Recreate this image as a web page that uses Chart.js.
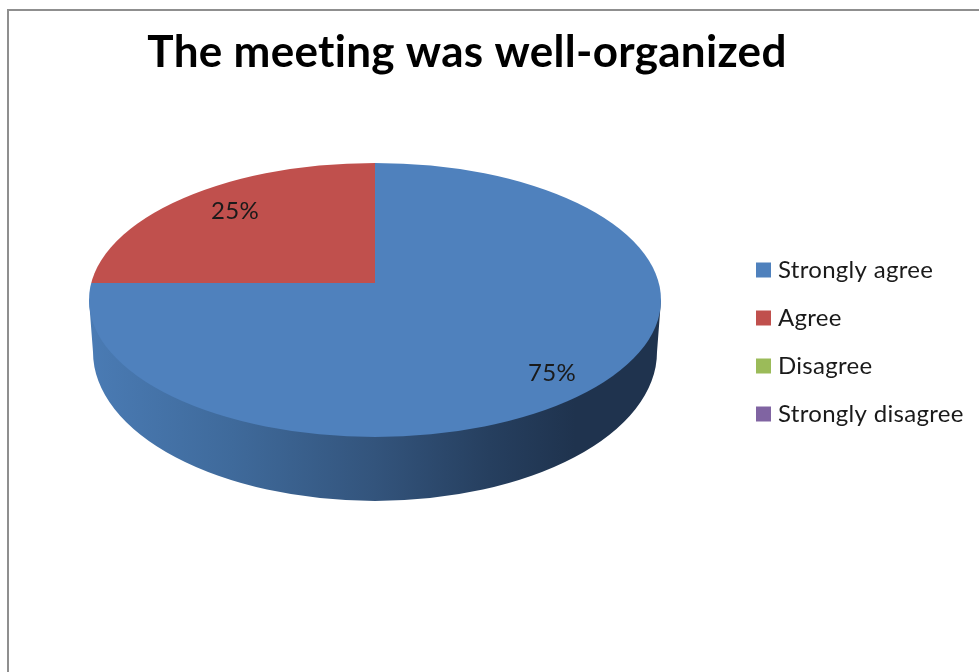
<!DOCTYPE html>
<html><head><meta charset="utf-8">
<style>html,body{margin:0;padding:0;background:#fff}#w{width:979px;height:672px;position:relative;overflow:hidden}
#b{position:absolute;left:7px;top:9px;width:990px;height:690px;border:2px solid #8f8f8f;box-sizing:border-box}
canvas{position:absolute;left:0;top:0}</style>
<script src="https://cdn.jsdelivr.net/npm/chart.js@4"></script></head>
<body><div id="w"><div id="b"></div><canvas id="c" width="979" height="672"></canvas></div>
<script>
const titleText='The meeting was well-organized';
const categories=['Strongly agree','Agree','Disagree','Strongly disagree'];
const values=[75,25,0,0];
const colors=['#4f81bd','#c0504d','#9bbb59','#8064a2'];
const labelFractionX=[0.875,0.692,0,0];
const labelFractionY=[0.827,0.85,0,0];
const RX=286,RY_UP=120,RY_DOWN=154;
const font='Lato,"Open Sans",sans-serif';
const pie3d={id:'pie3d',
 beforeDraw(ch){ch.ctx.letterSpacing='0.3px';},
 afterLayout(ch){
  ch.titleBlock.left=0;ch.titleBlock.right=934;
  const l=ch.legend;l.left=737;l.right=979;l.top=234;l.bottom=672;
 },
 beforeDatasetsDraw(ch){
  const c=ch.ctx,el=ch.getDatasetMeta(0).data[0];const x=el.x,y=el.y;
  const ey=y+17,ery=137;
  c.save();
  const g=c.createLinearGradient(x-RX,0,x+RX,0);
  g.addColorStop(0,'#4a7bb4');g.addColorStop(0.25,'#3f6a9b');g.addColorStop(0.5,'#33547c');g.addColorStop(0.7,'#263f5f');g.addColorStop(0.85,'#1f334e');g.addColorStop(1,'#1f334e');
  c.fillStyle=g;c.beginPath();
  c.moveTo(x-RX,ey);c.lineTo(x-RX+4,y+69);
  c.ellipse(x,y+69,RX-4,149,0,Math.PI,0,true);
  c.lineTo(x+RX,ey);c.closePath();c.fill();
  c.restore();
  c.save();
  c.beginPath();c.ellipse(x,ey,RX,ery,0,0,Math.PI*2);c.clip();
  c.translate(x,y);c.scale(1.3,0.7);c.translate(-x,-y);
 },
 afterDatasetsDraw(ch){
  const c=ch.ctx,meta=ch.getDatasetMeta(0),el=meta.data[0];const x=el.x,y=el.y;
  c.restore();
  c.save();
  c.font='24px '+font;c.fillStyle='#1a1a1a';c.textAlign='center';c.textBaseline='middle';
  meta.data.forEach((a,i)=>{
   if(!values[i])return;
   const m=(a.startAngle+a.endAngle)/2;
   const ry=Math.sin(m)>0?RY_DOWN:RY_UP;
   c.fillText(values[i]+'%',x+RX*labelFractionX[i]*Math.cos(m),y+ry*labelFractionY[i]*Math.sin(m));
  });
  c.restore();
 }};
new Chart(document.getElementById('c'),{type:'pie',
 data:{labels:categories,datasets:[{data:values,backgroundColor:colors,borderWidth:0,radius:RX}]},
 options:{responsive:false,animation:false,
  layout:{padding:{left:89,right:318,top:0,bottom:189}},
  plugins:{tooltip:{enabled:false},
   title:{display:true,text:titleText,color:'#000',font:{family:font,size:44,weight:'bold'},padding:{top:26,bottom:4}},
   legend:{position:'chartArea',align:'start',labels:{usePointStyle:true,pointStyle:'rect',boxWidth:5,boxHeight:15,padding:24,color:'#1a1a1a',font:{family:font,size:24}}}}},
 plugins:[pie3d]});
</script></body></html>
